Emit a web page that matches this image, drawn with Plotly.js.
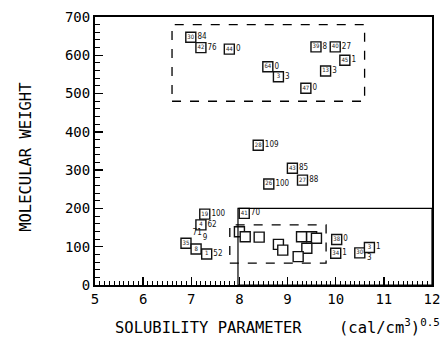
<!DOCTYPE html>
<html>
<head>
<meta charset="utf-8">
<script src="https://cdn.plot.ly/plotly-3.0.1.min.js"></script>
<style>
  html, body { margin: 0; padding: 0; background: #fff; }
  #chart { width: 441px; height: 342px; }
</style>
</head>
<body>
<div id="chart"></div>
<script>
// Solubility parameter (cal/cm^3)^0.5 and molecular weight of each compound
const solubility = [6.99, 7.20, 7.79, 8.59, 8.81, 9.38, 9.59, 9.99, 10.19, 9.79,
                    8.39, 9.10, 9.31, 8.61, 8.10, 7.28, 7.20, 6.89, 7.10, 7.32,
                    10.02, 10.00, 10.50, 10.70,
                    8.00, 8.12, 8.41, 8.81, 8.90, 9.29, 9.50, 9.60, 9.40, 9.22];
const molWeight  = [647, 620, 616, 570, 544, 514, 622, 622, 587, 559,
                    365, 305, 274, 264, 187, 185, 157, 109, 94, 81,
                    119, 83, 84, 98,
                    139, 126, 125, 106, 91, 126, 126, 122, 96, 74];
// Compound number written inside each box
const compoundNo = ["30", "42", "44", "64", "3", "47", "39", "40", "45", "13",
                    "28", "43", "27", "26", "41", "19", "4", "35", "8", "1",
                    "38", "34", "30", "3",
                    "", "", "", "", "", "", "", "", "", ""];
// Value noted beside each box
const sideNote   = ["84", "76", "0", "0", "3", "0", "8", "27", "1", "3",
                    "109", "85", "88", "100", "70", "100", "62", "71", "9", "52",
                    "0", "1", "", "1",
                    "", "", "", "", "", "", "", "", "", ""];
const notePlace  = ["middle right", "middle right", "middle right", "middle right", "middle right",
                    "middle right", "middle right", "middle right", "middle right", "middle right",
                    "middle right", "middle right", "middle right", "middle right", "middle right",
                    "middle right", "middle right", "top right", "top right", "middle right",
                    "middle right", "middle right", "middle right", "middle right",
                    "middle right", "middle right", "middle right", "middle right", "middle right",
                    "middle right", "middle right", "middle right", "middle right", "middle right"];
// Second note written under a box
const lowerNoteIdx = [23];
const lowerNote    = ["3"];

const plotFont = "DejaVu Sans Mono";
const noteFont = { family: "DejaVu Sans Condensed", size: 8, color: "#111" };

// Labelled points only, so no empty strings reach the text layer
const labelled = sideNote.map((t, i) => i).filter(i => sideNote[i] !== "");
const numbered = compoundNo.map((t, i) => i).filter(i => compoundNo[i] !== "");

const boxes = {
  type: "scatter", mode: "markers",
  x: solubility, y: molWeight,
  marker: { symbol: "square", size: 10, color: "#fff", line: { color: "#111", width: 1.4 } },
  hoverinfo: "skip", cliponaxis: false
};
const numbers = {
  type: "scatter", mode: "text",
  x: numbered.map(i => solubility[i]), y: numbered.map(i => molWeight[i]),
  text: numbered.map(i => compoundNo[i]),
  textposition: "middle center",
  textfont: { family: "DejaVu Sans Condensed", size: 6, color: "#222" },
  hoverinfo: "skip", cliponaxis: false
};
// Invisible markers give the side notes their offset from the box
const notes = {
  type: "scatter", mode: "markers+text",
  x: labelled.map(i => solubility[i]), y: labelled.map(i => molWeight[i]),
  text: labelled.map(i => sideNote[i]),
  textposition: labelled.map(i => notePlace[i]),
  marker: { size: 9, color: "rgba(0,0,0,0)" },
  textfont: Object.assign({}, noteFont),
  hoverinfo: "skip", cliponaxis: false
};
const lower = {
  type: "scatter", mode: "markers+text",
  x: lowerNoteIdx.map(i => solubility[i]), y: lowerNoteIdx.map(i => molWeight[i]),
  text: lowerNote, textposition: "bottom center",
  marker: { size: 9, color: "rgba(0,0,0,0)" },
  textfont: Object.assign({}, noteFont),
  hoverinfo: "skip", cliponaxis: false
};

const axisBase = {
  showgrid: false, zeroline: false, showline: true, linecolor: "#000", linewidth: 2,
  mirror: true, ticks: "inside", tickcolor: "#000", tickwidth: 1.5,
  tickfont: { family: plotFont, size: 14, color: "#000" }
};

const layout = {
  width: 441, height: 342,
  margin: { l: 95, r: 9, t: 17, b: 57 },
  paper_bgcolor: "#fff", plot_bgcolor: "#fff",
  showlegend: false,
  xaxis: Object.assign({}, axisBase, {
    range: [5, 12], dtick: 1, tick0: 5, ticklen: 8,
    minor: { dtick: 0.1, ticks: "inside", ticklen: 4, tickcolor: "#000", tickwidth: 1 }
  }),
  yaxis: Object.assign({}, axisBase, {
    range: [0, 700], dtick: 100, tick0: 0, ticklen: 8,
    minor: { dtick: 20, ticks: "inside", ticklen: 5, tickcolor: "#000", tickwidth: 1 }
  }),
  shapes: [
    { type: "rect", xref: "x", yref: "y", x0: 6.6, x1: 10.6, y0: 480, y1: 680,
      line: { color: "#000", width: 1.3, dash: "dash" } },
    { type: "rect", xref: "x", yref: "y", x0: 7.8, x1: 9.8, y0: 57, y1: 157,
      line: { color: "#000", width: 1.3, dash: "dash" } },
    { type: "rect", xref: "x", yref: "y", x0: 7.97, x1: 12, y0: 0, y1: 200,
      line: { color: "#000", width: 1.2 } }
  ],
  annotations: [
    { xref: "paper", yref: "paper", x: 1.03, xanchor: "right", y: -0.155, yanchor: "middle",
      showarrow: false,
      text: "SOLUBILITY PARAMETER&nbsp;&nbsp;&nbsp;&nbsp;(cal/cm<sup>3</sup>)<sup>0.5</sup>",
      font: { family: plotFont, size: 15.5, color: "#000" } },
    { xref: "paper", yref: "paper", x: -0.205, y: 0.478, textangle: -90, showarrow: false,
      xanchor: "center",
      text: "MOLECULAR WEIGHT",
      font: { family: plotFont, size: 15.5, color: "#000" } }
  ]
};

Plotly.newPlot("chart", [boxes, numbers, notes, lower], layout, { displayModeBar: false, staticPlot: true });
</script>
</body>
</html>
